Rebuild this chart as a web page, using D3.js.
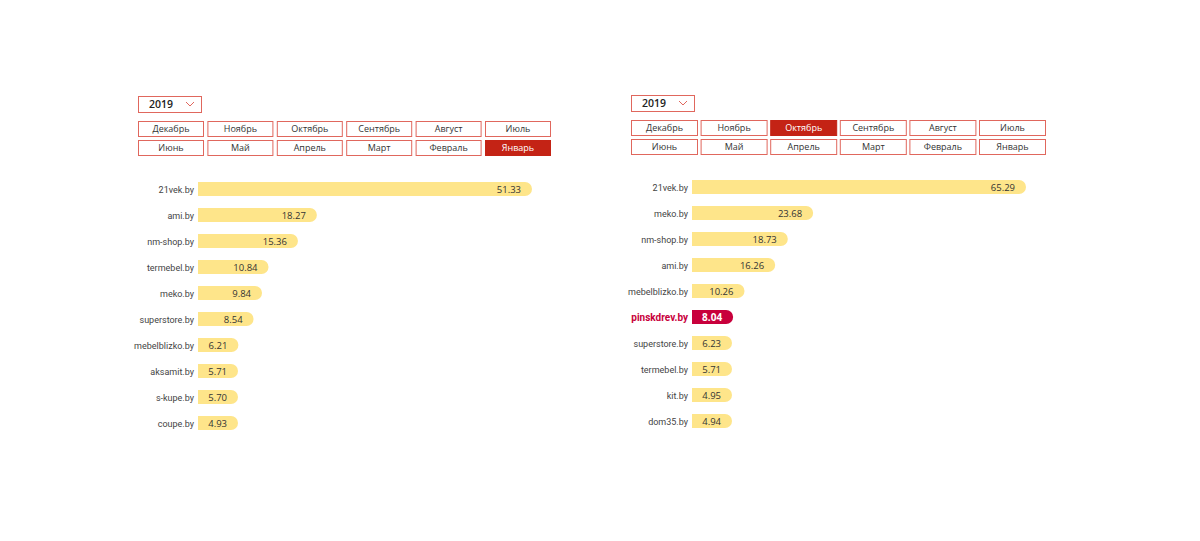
<!DOCTYPE html>
<html><head><meta charset="utf-8">
<script src="https://cdn.jsdelivr.net/npm/d3@7"></script>
<style>body{margin:0;background:#fff}svg{display:block;font-family:"Open Sans","Noto Sans",sans-serif}</style>
</head><body>
<svg id="c" width="1200" height="541"></svg>
<script>
const year = "2019";
const months = ["Декабрь","Ноябрь","Октябрь","Сентябрь","Август","Июль","Июнь","Май","Апрель","Март","Февраль","Январь"];
const leftActiveMonth = "Январь";
const rightActiveMonth = "Октябрь";
const leftSites = ["21vek.by","ami.by","nm-shop.by","termebel.by","meko.by","superstore.by","mebelblizko.by","aksamit.by","s-kupe.by","coupe.by"];
const leftValues = [51.33,18.27,15.36,10.84,9.84,8.54,6.21,5.71,5.70,4.93];
const rightSites = ["21vek.by","meko.by","nm-shop.by","ami.by","mebelblizko.by","pinskdrev.by","superstore.by","termebel.by","kit.by","dom35.by"];
const rightValues = [65.29,23.68,18.73,16.26,10.26,8.04,6.23,5.71,4.95,4.94];
const highlightSite = "pinskdrev.by";

const svg = d3.select("#c");

function panel(cfg){
  const g = svg.append("g");
  // dropdown
  const dd = g.append("g").attr("transform",`translate(${cfg.x},${cfg.ddY})`);
  dd.append("rect").attr("x",0.5).attr("y",0.5).attr("width",63).attr("height",16).attr("fill","#fff").attr("stroke","#e0675d").attr("stroke-width",1);
  dd.append("text").attr("x",23).attr("y",12).attr("text-anchor","middle").attr("font-size",10.5).attr("font-weight",600).attr("fill","#222").text(year);
  dd.append("path").attr("d","M48,6 L52,10 L56,6").attr("fill","none").attr("stroke","#e0675d").attr("stroke-width",1);
  // buttons
  const bw = cfg.bw, bh = 15, gap = cfg.bgap;
  months.forEach((m,i)=>{
    const col = i%6, row = Math.floor(i/6);
    const bx = cfg.x + col*(bw+gap), by = cfg.btnY + row*19;
    const active = m===cfg.active;
    g.append("rect").attr("x",bx+0.5).attr("y",by+0.5).attr("width",bw).attr("height",bh)
      .attr("fill",active?"#c42315":"#fff").attr("stroke",active?"#c42315":"#e0675d").attr("stroke-width",1);
    g.append("text").attr("x",bx+bw/2+0.5).attr("y",by+11).attr("text-anchor","middle")
      .attr("font-size",9).attr("fill",active?"#fff":"#333").text(m);
  });
  // bars
  const x = d3.scaleLinear().domain([0,d3.max(cfg.values)]).range([0,334]);
  const y = d3.scaleBand().domain(cfg.sites).range([cfg.barY0, cfg.barY0+26*cfg.sites.length]).paddingInner(0.46).paddingOuter(0.23);
  const h = 14, r = 7, x0 = cfg.barX;
  cfg.sites.forEach((s,i)=>{
    const v = cfg.values[i];
    const w = Math.max(x(v), 40);
    const cy = y(s) + y.bandwidth()/2;
    const top = cy - h/2;
    const hl = s===highlightSite;
    g.append("path").attr("d",`M${x0},${top} h${w-r} a${r},${r} 0 0 1 0,${2*r} h${-(w-r)} Z`)
      .attr("fill",hl?"#c8003c":"#fee58a");
    g.append("text").attr("x",x0-4).attr("y",cy+3.5).attr("text-anchor","end")
      .attr("font-family","Roboto, sans-serif")
      .attr("font-size",hl?10:9).attr("font-weight",hl?700:400).attr("fill",hl?"#c8003c":"#444").text(s);
    g.append("text").attr("x",x0+w-11).attr("y",cy+3.5).attr("text-anchor","end")
      .attr("font-size",hl?10:9.5).attr("font-weight",hl?700:400).attr("fill",hl?"#fff":"#333").text(v.toFixed(2));
  });
}

panel({x:138, ddY:96, btnY:121, bw:65, bgap:4.4, active:leftActiveMonth, sites:leftSites, values:leftValues, barX:198, barY0:176});
panel({x:631, ddY:95, btnY:120, bw:66, bgap:3.6, active:rightActiveMonth, sites:rightSites, values:rightValues, barX:692, barY0:174});
</script>
</body></html>
